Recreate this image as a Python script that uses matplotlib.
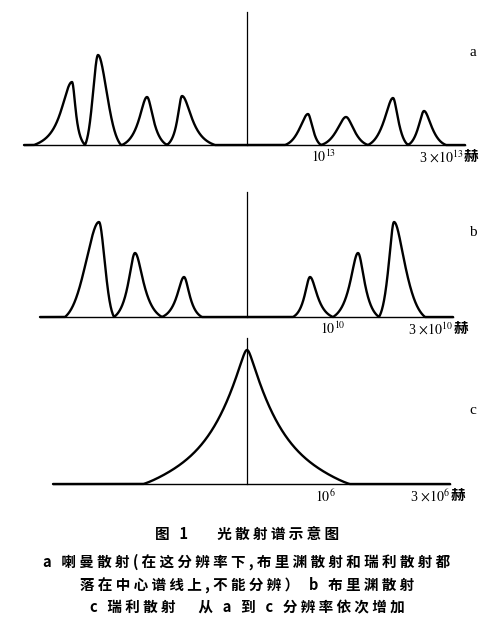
import numpy as np
import matplotlib
matplotlib.use("Agg")
import matplotlib.pyplot as plt

plt.rcParams['mathtext.fontset'] = 'stix'
plt.rcParams['font.family'] = ['Liberation Serif', 'Noto Sans CJK SC']

# peaks: centre (relative to the central line), height, left foot distance,
# right foot distance, share of lorentzian profile (0 = rounded, 1 = pointed)
PEAKS_A = [(-175, 63, 38, 13, 1.0), (-149, 90, 13, 23, 0.2), (-100, 48, 25, 20, 0.8),
           (-65, 49, 15, 33, 0.9),
           (61, 31, 23, 13, 0.5), (99, 28, 25, 22, 0.5), (146, 47, 25, 15, 0.6),
           (177, 34, 16, 22, 0.6)]
PEAKS_B = [(-148, 95, 34, 15, 0.2), (-112, 64, 21, 27, 0.8), (-63, 40, 22, 18, 0.8),
           (63, 40, 17, 23, 0.8), (111, 64, 25, 21, 0.8), (147, 95, 15, 31, 0.5)]
PEAKS_C = [(0, 134, 104, 103, 0.0)]

AXIS_A = (-223, 218)
AXIS_B = (-207, 206)
AXIS_C = (-194, 203)
CENTER_LINE = [133, 125, 146]

TICK_LABELS_A = [r"$10^{13}$", r"3 $\times 10^{13}$"]
TICK_LABELS_B = [r"$10^{10}$", r"3 $\times 10^{10}$"]
TICK_LABELS_C = [r"$10^{6}$", r"3 $\times 10^{6}$"]
PANEL_NAMES = ["a", "b", "c"]

CAPTION = ["图 1    光散射谱示意图",
           "a 喇曼散射(在这分辨率下,布里渊散射和瑞利散射都",
           "落在中心谱线上,不能分辨） b 布里渊散射",
           "c 瑞利散射   从 a 到 c 分辨率依次增加"]


def peak_curve(x, peaks, kind):
    y = np.zeros_like(x)
    for c, h, dl, dr, eta in peaks:
        u = x - c
        d = np.where(u < 0, dl, dr)
        if kind == 'voigt':
            s = 0.58 * d
            w = 0.35 * d
            g = np.exp(-(u / s) ** 2)
            g0 = np.exp(-(d / s) ** 2)
            lo = 1 / (1 + (u / w) ** 2)
            l0 = 1 / (1 + (d / w) ** 2)
            v = eta * (lo - l0) / (1 - l0) + (1 - eta) * (g - g0) / (1 - g0)
        else:
            t = np.sqrt(u ** 2 + 9) / d
            t0 = 3 / d
            r = np.clip((1 - t) / (1 - t0), 0, None)
            v = 0.55 * r ** 4 + 0.45 * r ** 1.2
        v = np.where(np.abs(u) <= d, v, 0)
        y = np.maximum(y, h * v)
    return y


fig = plt.figure(figsize=(5, 6.24), dpi=100)

# (top px, bottom px, baseline px)
bands = [(0, 170, 145), (170, 340, 317), (335, 500, 484)]
panels = [(PEAKS_A, AXIS_A, TICK_LABELS_A, 'voigt'), (PEAKS_B, AXIS_B, TICK_LABELS_B, 'voigt'),
          (PEAKS_C, AXIS_C, TICK_LABELS_C, 'cusp')]
tick_x = [(77, 216), (86, 206), (78, 203)]
name_y = [92, 84, 74]

for i, ((top, bot, base), (peaks, axis_ext, labels, kind)) in enumerate(zip(bands, panels)):
    ax = fig.add_axes([0, 1 - bot / 624, 1, (bot - top) / 624])
    ax.set_xlim(-247, 253)
    ax.set_ylim(-(bot - base), base - top)
    ax.axis('off')
    x = np.linspace(axis_ext[0], axis_ext[1], 4000)
    ax.plot(axis_ext, [0, 0], color='black', lw=1.0)
    ax.plot([0, 0], [0, CENTER_LINE[i]], color='black', lw=0.9)
    ax.plot(x, peak_curve(x, peaks, kind), color='black', lw=1.7, solid_capstyle='round')
    ax.text(tick_x[i][0], -4, labels[0], ha='center', va='top', fontsize=10)
    ax.text(tick_x[i][1], -4, labels[1], ha='right', va='top', fontsize=10)
    ax.text(tick_x[i][1] + 1, -3, "赫", ha='left', va='top', fontsize=10.5,
            family=['Noto Sans CJK SC'], fontweight='bold')
    ax.text(226, name_y[i], PANEL_NAMES[i], ha='center', va='center', fontsize=11)

cap_y = [535, 562, 585, 607]
for txt, yy in zip(CAPTION, cap_y):
    fig.text(0.494, 1 - yy / 624, " ".join(txt), ha='center', va='center', fontsize=10.5,
             family=['Noto Sans CJK SC', 'DejaVu Sans'], fontweight='bold')

fig.savefig("out.png", dpi=100)
